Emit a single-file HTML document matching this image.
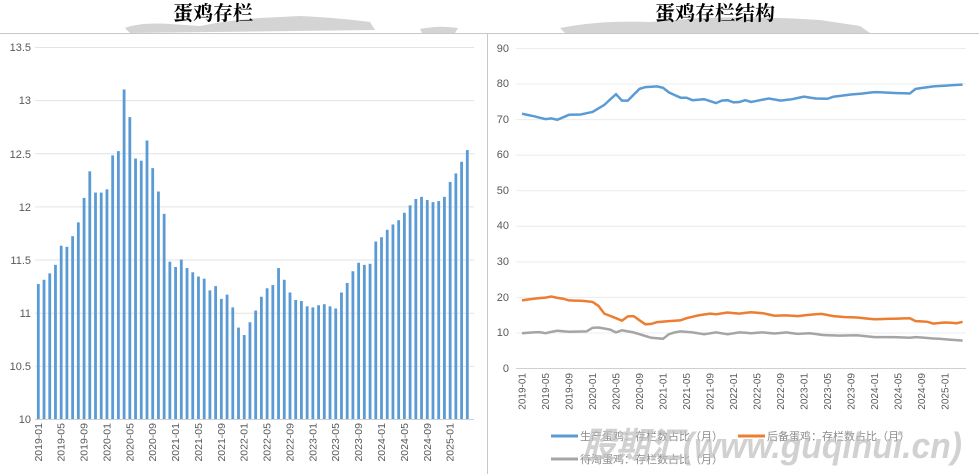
<!DOCTYPE html>
<html><head><meta charset="utf-8"><style>
body{margin:0;background:#fff;}
svg{display:block;font-family:"Liberation Sans","Noto Sans CJK SC",sans-serif;}
</style></head><body>
<svg id="s" width="979" height="474" viewBox="0 0 979 474" xmlns="http://www.w3.org/2000/svg">
<rect width="979" height="474" fill="#fff"/>
<g fill="#d4d4d4">
<path d="M125 28 Q140 22 170 24 L200 26 Q230 20 260 18 L300 16 Q340 18 370 22 L375 30 L130 33 Z"/>
<path d="M420 29 Q440 25 458 28 L455 33 L422 33 Z"/>
<path d="M560 28 Q600 20 650 22 L700 18 Q760 16 820 20 L860 26 L870 33 L565 33 Z"/>
</g>
<line x1="0" y1="33.5" x2="979" y2="33.5" stroke="#c8c8c8"/>
<line x1="487.5" y1="33" x2="487.5" y2="474" stroke="#c8c8c8"/>
<text x="213" y="20" font-size="20" font-weight="bold" text-anchor="middle" fill="#000" font-family="'Noto Serif CJK SC','Noto Sans CJK SC',serif">蛋鸡存栏</text>
<text x="715" y="20" font-size="20" font-weight="bold" text-anchor="middle" fill="#000" font-family="'Noto Serif CJK SC','Noto Sans CJK SC',serif">蛋鸡存栏结构</text>
<g id="lg" stroke="#e3e3e3"></g>
<g font-size="11" fill="#595959" text-anchor="end">
<text x="31" y="51">13.5</text><text x="31" y="104">13</text><text x="31" y="158">12.5</text>
<text x="31" y="211">12</text><text x="31" y="264">11.5</text><text x="31" y="317">11</text>
<text x="31" y="370">10.5</text><text x="31" y="423">10</text>
</g>
<g id="bars" fill="#5b9bd5"></g>
<line x1="35" y1="419.5" x2="474" y2="419.5" stroke="#d0d0d0"/>
<g id="lx" font-size="10.5" fill="#595959"></g>
<g id="rg" stroke="#ececec"></g>
<g font-size="11" fill="#595959" text-anchor="end">
<text x="509" y="52">90</text><text x="509" y="87">80</text><text x="509" y="123">70</text>
<text x="509" y="158">60</text><text x="509" y="194">50</text><text x="509" y="229">40</text>
<text x="509" y="265">30</text><text x="509" y="301">20</text><text x="509" y="336">10</text>
<text x="509" y="372">0</text>
</g>
<line x1="516" y1="368.5" x2="966" y2="368.5" stroke="#d0d0d0"/>
<g id="rx" font-size="10" fill="#595959"></g>
<path id="pb" fill="none" stroke="#5b9bd5" stroke-width="2.5"/>
<path id="po" fill="none" stroke="#ed7d31" stroke-width="2.5"/>
<path id="pg" fill="none" stroke="#a5a5a5" stroke-width="2.5"/>
<g font-size="11" fill="#8a8a8a">
<line x1="551" y1="436" x2="578" y2="436" stroke="#5b9bd5" stroke-width="3"/>
<text x="580" y="440">生产蛋鸡：存栏数占比（月）</text>
<line x1="738" y1="436" x2="765" y2="436" stroke="#ed7d31" stroke-width="3"/>
<text x="767" y="440">后备蛋鸡：存栏数占比（月）</text>
<line x1="551" y1="459" x2="578" y2="459" stroke="#a5a5a5" stroke-width="3"/>
<text x="580" y="463">待淘蛋鸡：存栏数占比（月）</text>
</g>
<text x="582" y="458" font-size="36" font-weight="bold" font-style="italic" fill="#bdbdbd" fill-opacity="0.7" textLength="380" lengthAdjust="spacingAndGlyphs">股期汇(www.guqihui.cn)</text>
</svg>
<script>
var NS="http://www.w3.org/2000/svg";
function el(p,t,a){var e=document.createElementNS(NS,t);for(var k in a)e.setAttribute(k,a[k]);document.getElementById(p).appendChild(e);return e;}
var v=[11.27,11.31,11.37,11.45,11.63,11.62,11.72,11.85,12.08,12.33,12.13,12.13,
12.16,12.48,12.52,13.10,12.84,12.45,12.43,12.62,12.36,12.14,11.93,11.48,
11.43,11.50,11.42,11.38,11.34,11.32,11.21,11.25,11.13,11.17,11.05,10.86,
10.79,10.91,11.02,11.15,11.23,11.26,11.42,11.31,11.19,11.12,11.11,11.06,
11.05,11.07,11.08,11.06,11.04,11.19,11.28,11.39,11.47,11.45,11.46,11.67,
11.71,11.78,11.83,11.87,11.94,12.01,12.07,12.09,12.06,12.04,12.05,12.09,
12.23,12.31,12.42,12.53];
function yl(x){return 419-(x-10)*106.3;}
for(var i=0;i<8;i++)el("lg","line",{x1:35,x2:474,y1:(419-i*53.15)+0.5,y2:(419-i*53.15)+0.5});
v.forEach(function(x,i){var cx=38.3+i*5.72;el("bars","rect",{x:cx-1.4,y:yl(x),width:2.8,height:419-yl(x)});});
var labs=["2019-01","2019-05","2019-09","2020-01","2020-05","2020-09","2021-01","2021-05","2021-09","2022-01","2022-05","2022-09","2023-01","2023-05","2023-09","2024-01","2024-05","2024-09","2025-01"];
labs.forEach(function(s,j){var x=38.3+j*4*5.72+3.5;var t=el("lx","text",{x:0,y:0,"text-anchor":"end",transform:"translate("+x+",423) rotate(-90)"});t.textContent=s;});
for(var i=0;i<10;i++)el("rg","line",{x1:516,x2:966,y1:(368-i*35.56)+0.5,y2:(368-i*35.56)+0.5});
labs.forEach(function(s,j){var x=522+j*4*5.875+3.5;var t=el("rx","text",{x:0,y:0,"text-anchor":"end",transform:"translate("+x+",373) rotate(-90)"});t.textContent=s;});
function interp(k,n){var o=[];for(var i=0;i<n;i++){for(var j=0;j<k.length-1;j++){if(i>=k[j][0]&&i<=k[j+1][0]){var f=(i-k[j][0])/((k[j+1][0]-k[j][0])||1);o.push(k[j][1]+f*(k[j+1][1]-k[j][1]));break;}}}return o;}
var N=76;
var B=interp([[0,71.5],[2,70.8],[4,70],[5,70.2],[6,69.8],[8,71.2],[10,71.3],[12,72],[14,74],[16,77],[17,75.2],[18,75.2],[20,78.5],[21,79],[23,79.2],[24,78.8],[25,77.5],[27,76],[28,76],[29,75.3],[31,75.6],[33,74.5],[34,75.2],[35,75.3],[36,74.7],[37,74.8],[38,75.3],[39,74.8],[42,75.8],[43,75.5],[44,75.2],[46,75.6],[48,76.3],[50,75.8],[52,75.7],[53,76.3],[56,76.9],[58,77.2],[60,77.6],[64,77.3],[66,77.2],[67,78.5],[70,79.2],[72,79.4],[75,79.7]],N);
var O=interp([[0,19],[2,19.5],[4,19.8],[5,20.1],[6,19.7],[7,19.5],[8,19],[10,18.9],[12,18.6],[13,17.5],[14,15.3],[16,14],[17,13.3],[18,14.5],[19,14.6],[20,13.4],[21,12.3],[22,12.4],[23,12.9],[25,13.2],[27,13.4],[28,14],[30,14.8],[32,15.3],[33,15.1],[35,15.6],[37,15.3],[39,15.7],[41,15.4],[43,14.7],[45,14.8],[47,14.6],[49,15],[51,15.2],[53,14.6],[55,14.3],[57,14.2],[60,13.7],[64,13.9],[66,14],[67,13.2],[69,13],[70,12.5],[72,12.8],[74,12.6],[75,13]],N);
var G=interp([[0,9.8],[3,10.1],[4,9.8],[6,10.5],[8,10.2],[11,10.3],[12,11.3],[13,11.4],[15,10.8],[16,10],[17,10.6],[19,10],[21,9],[22,8.5],[24,8.2],[25,9.5],[26,10],[27,10.3],[29,10],[31,9.5],[33,10],[35,9.5],[37,10],[39,9.8],[41,10],[43,9.7],[45,10],[47,9.6],[49,9.8],[51,9.3],[54,9.1],[57,9.2],[60,8.7],[63,8.7],[66,8.5],[67,8.7],[70,8.3],[72,8.1],[75,7.7]],N);
function d(a){return a.map(function(y,i){return(i?"L":"M")+(522+i*5.875).toFixed(1)+" "+(368-y*3.556).toFixed(1);}).join(" ");}
document.getElementById("pb").setAttribute("d",d(B));
document.getElementById("po").setAttribute("d",d(O));
document.getElementById("pg").setAttribute("d",d(G));
</script>
</body></html>
